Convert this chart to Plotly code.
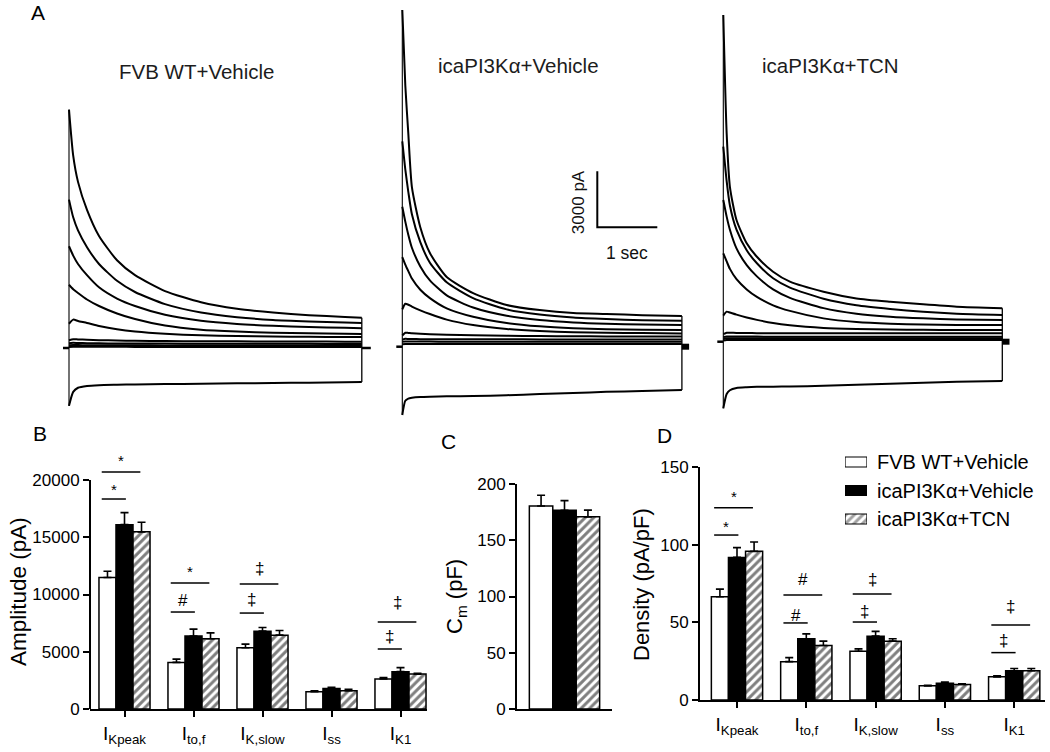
import plotly.graph_objects as go

W, H = 1050, 752
FONT = "Liberation Sans, Arial, sans-serif"

# ---------------- data ----------------
series = ["FVB WT+Vehicle", "icaPI3K\u03b1+Vehicle", "icaPI3K\u03b1+TCN"]
currents = ["I<sub>Kpeak</sub>", "I<sub>to,f</sub>", "I<sub>K,slow</sub>", "I<sub>ss</sub>", "I<sub>K1</sub>"]

# Panel B: amplitude (pA), mean and SEM
amp_wt = [11480, 4070, 5350, 1510, 2620]
amp_wt_sem = [550, 290, 320, 90, 120]
amp_veh = [16100, 6370, 6800, 1800, 3260]
amp_veh_sem = [1050, 610, 320, 90, 350]
amp_tcn = [15470, 6130, 6450, 1600, 3050]
amp_tcn_sem = [840, 520, 410, 115, 60]
amp_ticks = [0, 5000, 10000, 15000, 20000]

# Panel C: membrane capacitance (pF)
cm_mean = [180.5, 176.7, 170.8]
cm_sem = [9.5, 8.5, 6.0]
cm_ticks = [0, 50, 100, 150, 200]

# Panel D: density (pA/pF)
den_wt = [66.5, 24.7, 31.4, 9.1, 14.9]
den_wt_sem = [4.9, 2.6, 1.5, 0.3, 0.7]
den_veh = [91.8, 39.4, 41.1, 10.8, 18.8]
den_veh_sem = [6.3, 3.2, 3.1, 0.7, 1.5]
den_tcn = [95.7, 35.1, 37.9, 10.0, 18.8]
den_tcn_sem = [6.0, 2.8, 1.5, 0.4, 1.5]
den_ticks = [0, 50, 100, 150]

# Significance marks
sig_B_group = [0, 0, 1, 1, 2, 2, 4, 4]
sig_B_line = [18340, 20700, 8470, 11000, 8380, 10920, 5240, 7600]
sig_B_mark = [19560, 22010, 9520, 12400, 9600, 12310, 6290, 9260]
sig_B_sym = ["*", "*", "#", "*", "\u2021", "\u2021", "\u2021", "\u2021"]
sig_B_long = [False, True, False, True, False, True, False, True]

sig_D_group = [0, 0, 1, 1, 2, 2, 4, 4]
sig_D_line = [106.2, 123.8, 49.6, 67.6, 50.2, 68.2, 30.5, 48.3]
sig_D_mark = [114.0, 133.3, 54.7, 77.3, 56.7, 77.3, 38.6, 59.9]
sig_D_sym = ["*", "*", "#", "#", "\u2021", "\u2021", "\u2021", "\u2021"]
sig_D_long = [False, True, False, True, False, True, False, True]

# Panel A: current traces (pA) sampled at time points (s)
t_wt = [0, 0.07, 0.15, 0.3, 0.5, 0.8, 1.1, 1.6, 2.2, 2.8, 3.4, 4.0, 4.6, 4.88]
wt_traces = [
    [12770, 10300, 8900, 7400, 6000, 4700, 3900, 3050, 2450, 2100, 1900, 1760, 1660, 1620],
    [7950, 7000, 6300, 5400, 4500, 3600, 3000, 2350, 1900, 1650, 1500, 1420, 1360, 1340],
    [5450, 4950, 4500, 3900, 3250, 2650, 2250, 1780, 1460, 1290, 1190, 1120, 1080, 1060],
    [3390, 3150, 2950, 2600, 2250, 1850, 1550, 1200, 980, 880, 820, 790, 760, 750],
    [1300, 1520, 1450, 1340, 1180, 1000, 880, 760, 680, 640, 610, 600, 590, 590],
    [420, 470, 460, 440, 420, 400, 385, 370, 360, 355, 350, 345, 340, 340],
    [260, 280, 270, 260, 250, 245, 240, 235, 230, 228, 225, 222, 220, 220],
    [150, 160, 155, 150, 148, 145, 142, 140, 138, 136, 135, 134, 133, 132],
    [60, 70, 68, 66, 64, 62, 60, 58, 57, 56, 55, 55, 54, 54],
    [-3100, -2350, -2130, -2030, -1990, -1970, -1955, -1935, -1915, -1895, -1875, -1855, -1835, -1825],
]

t_veh = [0, 0.05, 0.1, 0.16, 0.3, 0.46, 0.74, 1.18, 1.74, 2.29, 2.85, 3.4, 4.0, 4.66]
veh_traces = [
    [18040, 14000, 11430, 8550, 6400, 5020, 3730, 2870, 2230, 1960, 1800, 1750, 1690, 1640],
    [11000, 9500, 8300, 7100, 5600, 4500, 3450, 2600, 2000, 1720, 1560, 1480, 1420, 1390],
    [7500, 6700, 6000, 5300, 4300, 3550, 2750, 2100, 1660, 1430, 1300, 1230, 1190, 1160],
    [4800, 4400, 4050, 3650, 3050, 2600, 2050, 1600, 1270, 1090, 990, 940, 910, 890],
    [2000, 2300, 2250, 2150, 1950, 1750, 1450, 1160, 950, 840, 780, 750, 730, 710],
    [600, 750, 740, 720, 690, 670, 640, 610, 590, 570, 560, 550, 545, 540],
    [380, 420, 415, 410, 405, 400, 398, 395, 393, 392, 391, 390, 390, 390],
    [260, 280, 278, 276, 274, 272, 271, 270, 270, 270, 270, 270, 270, 270],
    [130, 145, 144, 143, 142, 141, 140, 140, 140, 140, 140, 140, 140, 140],
    [-3660, -2900, -2780, -2740, -2700, -2680, -2660, -2640, -2600, -2540, -2480, -2420, -2370, -2320],
]

t_tcn = [0, 0.056, 0.11, 0.22, 0.39, 0.56, 0.83, 1.11, 1.67, 2.22, 2.78, 3.33, 3.89, 4.65]
tcn_traces = [
    [17500, 11160, 8300, 6520, 5270, 4550, 3750, 3215, 2680, 2320, 2140, 2000, 1875, 1790],
    [10450, 8600, 7300, 6000, 4900, 4200, 3400, 2900, 2300, 1950, 1750, 1600, 1500, 1430],
    [7590, 6700, 6000, 5000, 4100, 3500, 2800, 2350, 1800, 1500, 1340, 1250, 1190, 1160],
    [4730, 4300, 3900, 3350, 2800, 2400, 1950, 1650, 1250, 1050, 960, 920, 900, 890],
    [1400, 1610, 1560, 1450, 1300, 1170, 1000, 880, 740, 680, 650, 635, 630, 625],
    [400, 480, 480, 470, 462, 458, 455, 452, 450, 450, 450, 450, 450, 450],
    [250, 280, 278, 276, 274, 272, 271, 270, 270, 270, 270, 270, 270, 270],
    [150, 185, 184, 183, 182, 181, 180, 180, 180, 180, 180, 180, 180, 180],
    [60, 95, 94, 93, 92, 91, 90, 90, 90, 90, 90, 90, 90, 90],
    [-3570, -2800, -2600, -2480, -2440, -2420, -2410, -2400, -2360, -2300, -2250, -2200, -2150, -2110],
]

holding_pA = 0
scale_bar_pA = 3000
scale_bar_s = 1

# ---------------- helpers ----------------
def fx(p):
    return p / W


def fy(p):
    return 1 - p / H


PX_PER_S = 60.0
PX_PER_PA = 56.0 / 3000.0

fig = go.Figure()
layout = dict(
    width=W, height=H, margin=dict(l=0, r=0, t=0, b=0, autoexpand=False),
    paper_bgcolor="white", plot_bgcolor="rgba(0,0,0,0)",
    font=dict(family=FONT, color="black"),
    showlegend=False, barmode="group", bargap=0.26, bargroupgap=0,
)
annotations = []
shapes = []


def note(x, y, text, size, xref="paper", yref="paper", angle=0, xanchor="center",
         yshift=0, color="black"):
    annotations.append(dict(x=x, y=y, xref=xref, yref=yref, text=text, textangle=angle,
                            showarrow=False, xanchor=xanchor, yanchor="middle", yshift=yshift,
                            font=dict(size=size, color=color, family=FONT)))


# ---------- Panel A ----------
panelA = [
    # (times, traces, t0 px, baseline px, left px, right px, tail length s, tail width)
    (t_wt, wt_traces, 69.0, 348.0, 60, 378, 0.15, 2.5),
    (t_veh, veh_traces, 402.3, 346.7, 394, 694, 0.12, 6),
    (t_tcn, tcn_traces, 723.3, 341.7, 715, 1015, 0.12, 6),
]
for i, (tt, trs, t0, base, left, right, tail, tailw) in enumerate(panelA, start=1):
    xa = "x" if i == 1 else f"x{i}"
    ya = "y" if i == 1 else f"y{i}"
    kx = "xaxis" if i == 1 else f"xaxis{i}"
    ky = "yaxis" if i == 1 else f"yaxis{i}"
    layout[kx] = dict(domain=[fx(left), fx(right)],
                      range=[(left - t0) / PX_PER_S, (right - t0) / PX_PER_S],
                      visible=False, anchor=ya)
    layout[ky] = dict(domain=[fy(420), fy(0)],
                      range=[(base - 420) / PX_PER_PA, base / PX_PER_PA],
                      visible=False, anchor=xa)
    tend = tt[-1]
    firsts = [tr[0] for tr in trs]
    lasts = [tr[-1] for tr in trs]
    fig.add_trace(go.Scatter(x=[-0.1, 0], y=[holding_pA, holding_pA], mode="lines",
                             line=dict(color="black", width=2.5), xaxis=xa, yaxis=ya, hoverinfo="skip"))
    fig.add_trace(go.Scatter(x=[tend, tend + tail], y=[holding_pA, holding_pA], mode="lines",
                             line=dict(color="black", width=tailw), xaxis=xa, yaxis=ya, hoverinfo="skip"))
    fig.add_trace(go.Scatter(x=[0, 0], y=[min(firsts), max(firsts)], mode="lines",
                             line=dict(color="black", width=1.1), xaxis=xa, yaxis=ya, hoverinfo="skip"))
    fig.add_trace(go.Scatter(x=[tend, tend], y=[min(lasts), max(lasts)], mode="lines",
                             line=dict(color="black", width=1.3), xaxis=xa, yaxis=ya, hoverinfo="skip"))
    for tr in trs:
        fig.add_trace(go.Scatter(x=tt, y=tr, mode="lines",
                                 line=dict(color="black", width=2.0, shape="spline", smoothing=0.6),
                                 xaxis=xa, yaxis=ya, hoverinfo="skip"))

# scale bar in panel 2
sb_t, sb_y = 3.25, 6400
fig.add_trace(go.Scatter(x=[sb_t, sb_t, sb_t + scale_bar_s], y=[sb_y + scale_bar_pA, sb_y, sb_y],
                         mode="lines", line=dict(color="black", width=2), xaxis="x2", yaxis="y2",
                         hoverinfo="skip"))
note(sb_t - 0.32, sb_y + 1350, f"{scale_bar_pA} pA", 17, xref="x2", yref="y2", angle=-90, color="#111")
note(sb_t + 0.5, sb_y - 1380, f"{scale_bar_s} sec", 17.5, xref="x2", yref="y2", color="#111")

for (txt, cx, cy) in [(series[0], 197, 71), (series[1], 518, 66), (series[2], 830, 65)]:
    note(fx(cx), fy(cy), txt, 20.5, color="#1c1c1c")

# ---------- bars ----------
pattern_none = dict(shape="")
pattern_hatch = dict(shape="/", fgcolor="black", bgcolor="white", size=6, solidity=0.5)
styles = [("white", pattern_none), ("black", pattern_none), ("white", pattern_hatch)]


def add_bars(xvals, means, sems, xa, ya):
    for k, (m, s) in enumerate(zip(means, sems)):
        col, pat = styles[k]
        fig.add_trace(go.Bar(
            x=xvals, y=m, name=series[k], xaxis=xa, yaxis=ya,
            marker=dict(color=col, line=dict(color="black", width=1.5), pattern=pat),
            error_y=dict(type="data", symmetric=False, array=s, arrayminus=[0] * len(s),
                         color="black", thickness=1.6, width=4),
            hoverinfo="skip",
        ))


groups_idx = list(range(len(currents)))
add_bars(groups_idx, [amp_wt, amp_veh, amp_tcn], [amp_wt_sem, amp_veh_sem, amp_tcn_sem], "x4", "y4")
add_bars([0], [[cm_mean[0]], [cm_mean[1]], [cm_mean[2]]], [[cm_sem[0]], [cm_sem[1]], [cm_sem[2]]], "x5", "y5")
add_bars(groups_idx, [den_wt, den_veh, den_tcn], [den_wt_sem, den_veh_sem, den_tcn_sem], "x6", "y6")

axis_common = dict(showgrid=False, zeroline=False, ticks="outside", ticklen=6, tickwidth=2,
                   tickcolor="black", linecolor="black", linewidth=2)

# Panel B axes: px per group = 69, first group centre at 124.5 px
B_top = amp_ticks[-1]
layout["xaxis4"] = dict(axis_common, domain=[fx(90), fx(427)],
                        range=[(90 - 124.5) / 69, (427 - 124.5) / 69],
                        tickvals=groups_idx, ticktext=currents, showline=True,
                        tickfont=dict(size=19), anchor="y4")
layout["yaxis4"] = dict(axis_common, domain=[fy(709), fy(440)],
                        range=[0, (709 - 440) / (709 - 480) * B_top],
                        tickvals=amp_ticks, ticktext=[str(v) for v in amp_ticks], showline=False,
                        tickfont=dict(size=17), anchor="x4")
shapes.append(dict(type="line", xref="x4 domain", yref="y4", x0=0, x1=0, y0=0, y1=B_top,
                   line=dict(color="black", width=2)))

# Panel C axes
layout["xaxis5"] = dict(axis_common, domain=[fx(517), fx(612)], range=[-0.5, 0.5],
                        showticklabels=False, ticks="", showline=True, anchor="y5")
layout["yaxis5"] = dict(axis_common, domain=[fy(709), fy(484)], range=[0, cm_ticks[-1]],
                        tickvals=cm_ticks, ticktext=[str(v) for v in cm_ticks], showline=True,
                        tickfont=dict(size=17), anchor="x5")

# Panel D axes
layout["xaxis6"] = dict(axis_common, domain=[fx(700), fx(1045)],
                        range=[(700 - 737) / 69.3, (1045 - 737) / 69.3],
                        tickvals=groups_idx, ticktext=currents, showline=True,
                        tickfont=dict(size=19), anchor="y6")
layout["yaxis6"] = dict(axis_common, domain=[fy(700), fy(467)], range=[0, den_ticks[-1]],
                        tickvals=den_ticks, ticktext=[str(v) for v in den_ticks], showline=True,
                        tickfont=dict(size=17), anchor="x6")


def add_sig(groups, lines, marks, syms, longs, xa, ya):
    for g, ly, my, sym, lg in zip(groups, lines, marks, syms, longs):
        x0 = g - 0.33
        x1 = g + (0.23 if lg else 0.02)
        shapes.append(dict(type="line", xref=xa, yref=ya, x0=x0, x1=x1, y0=ly, y1=ly,
                           line=dict(color="black", width=1.5)))
        star = sym == "*"
        note((x0 + x1) / 2, my, sym, 15 if star else 17, xref=xa, yref=ya,
             yshift=-4 if star else 0)


add_sig(sig_B_group, sig_B_line, sig_B_mark, sig_B_sym, sig_B_long, "x4", "y4")
add_sig(sig_D_group, sig_D_line, sig_D_mark, sig_D_sym, sig_D_long, "x6", "y6")

# axis titles
note(fx(18), fy(592), "Amplitude (pA)", 22.5, angle=-90)
note(fx(456), fy(597), "C<sub>m</sub> (pF)", 22, angle=-90)
note(fx(641), fy(585), "Density (pA/pF)", 22, angle=-90)

# panel letters
for (txt, cx, cy) in [("A", 38, 13), ("B", 40, 433), ("C", 448, 441), ("D", 664, 435)]:
    note(fx(cx), fy(cy), txt, 21)

# legend (boxes drawn as bars in a small hidden subplot)
fig.add_trace(go.Bar(
    x=[1, 1, 1], y=[0, 1, 2], base=0, orientation="h", width=0.35, xaxis="x7", yaxis="y7",
    marker=dict(color=["white", "black", "white"], line=dict(color="black", width=1.2),
                pattern=dict(shape=["", "", "/"], fgcolor="black", size=6, solidity=0.5)),
    hoverinfo="skip", showlegend=False,
))
layout["xaxis7"] = dict(domain=[fx(845), fx(867)], range=[0, 1], visible=False, anchor="y7")
layout["yaxis7"] = dict(domain=[fy(533.25), fy(447.75)], range=[2.5, -0.5], visible=False, anchor="x7")
for k, cy in enumerate([462, 491, 519]):
    note(fx(875), fy(cy), series[k], 20, xanchor="left")

layout["annotations"] = annotations
layout["shapes"] = shapes
fig.update_layout(**layout)
fig.write_html("out.html", config={"displayModeBar": False},
               post_script="document.body.style.margin='0';document.body.style.overflow='hidden';")
